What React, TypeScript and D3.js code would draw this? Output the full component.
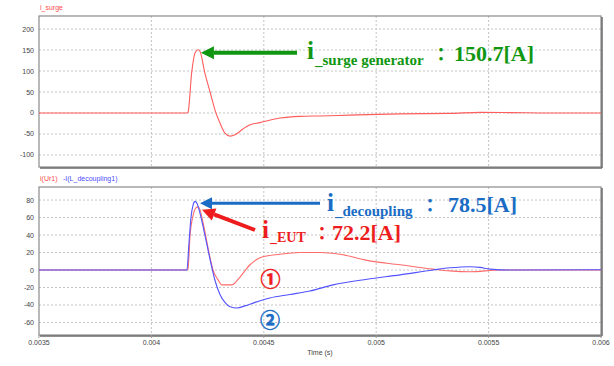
import React from 'react';
import * as d3 from 'd3';

// time axis (s)
const timeTicks = [0.0035, 0.004, 0.0045, 0.005, 0.0055, 0.006];
const timeTickLabels = ['0.0035', '0.004', '0.0045', '0.005', '0.0055', '0.006'];

// top panel: i_surge
const surgeTicks = [200, 150, 100, 50, 0, -50, -100];
const surgeTime = [0.0035, 0.004158, 0.004163, 0.004179, 0.004194, 0.004207, 0.004216, 0.004238, 0.004261, 0.004283, 0.004305, 0.004327, 0.00435, 0.004372, 0.004407, 0.004439, 0.004483, 0.004572, 0.004661, 0.00475, 0.004883, 0.005106, 0.005328, 0.005462, 0.005595, 0.005773, 0.006];
const surgeValue = [0, 0, 2, 95, 143, 150.7, 147, 95, 50, 7, -24, -48, -55, -52, -38, -28, -23, -12, -8, -7, -5, -2, -1, 1.5, 1, 0, 0];

// bottom panel: i(Ur1) and -I(L_decoupling1)
const bottomTicks = [80, 60, 40, 20, 0, -20, -40, -60];
const eutTime = [0.0035, 0.004158, 0.004163, 0.004172, 0.004185, 0.004198, 0.004207, 0.004216, 0.004229, 0.004261, 0.004274, 0.004296, 0.004314, 0.004358, 0.004394, 0.004439, 0.004483, 0.004572, 0.004661, 0.00475, 0.004839, 0.004959, 0.005106, 0.005253, 0.005328, 0.005417, 0.005551, 0.006];
const eutValue = [0, 0, 2, 40, 62, 71, 72.2, 69, 55, 14, 0, -11, -17, -17, -8, 6, 14, 18, 20, 20, 18, 11, 6, 1, -1, -2, 0, 0];
const decTime = [0.0035, 0.004158, 0.004167, 0.004176, 0.004185, 0.004194, 0.004203, 0.004216, 0.004238, 0.004261, 0.004283, 0.004305, 0.004327, 0.00435, 0.004381, 0.004416, 0.004461, 0.004527, 0.004616, 0.004705, 0.004808, 0.004959, 0.005106, 0.005253, 0.005328, 0.005417, 0.005462, 0.005506, 0.005595, 0.006];
const decValue = [0, 0, 30, 60, 74, 78.5, 76, 65, 40, 12, -12, -28, -37, -42, -43.4, -41, -37, -32, -28, -24, -17, -10.6, -5.6, 0, 2.5, 3.8, 3, 1, 0, 0.3];

const W = 614;
const H = 366;
const left = 39;
const right = 601;
const top1 = 16, bot1 = 167;
const top2 = 187, bot2 = 335;

const serif = '"Liberation Serif", "Times New Roman", serif';
const cjk = '"Noto Sans CJK JP", sans-serif';
const sans = '"Liberation Sans", Arial, sans-serif';

export default function App() {
  const x = d3.scaleLinear().domain([0.0035, 0.006]).range([left, right]);
  const y1 = d3.scaleLinear().domain([-128.6, 231]).range([bot1, top1]);
  const y2 = d3.scaleLinear().domain([-74.3, 94.9]).range([bot2, top2]);

  const line = (t: number[], v: number[], y: d3.ScaleLinear<number, number>) =>
    d3.line<number>()
      .x((_, i) => x(t[i]))
      .y(d => y(d))
      .curve(d3.curveMonotoneX)(v) || '';

  const gridX = timeTicks.slice(1, -1);

  const panel = (y: d3.ScaleLinear<number, number>, ticks: number[], t0: number, b0: number) => (
    <g>
      {ticks.map(v => (
        <g key={v}>
          <line x1={left} x2={right} y1={y(v)} y2={y(v)} stroke="#c4c4c4" strokeDasharray="2,2" />
          <text x={34} y={y(v) + 2.5} textAnchor="end" fontSize={7} fontFamily={sans} fill="#444">{v}</text>
        </g>
      ))}
      {gridX.map(v => (
        <line key={v} x1={x(v)} x2={x(v)} y1={t0} y2={b0} stroke="#c4c4c4" strokeDasharray="2,2" />
      ))}
      <rect x={left} y={t0} width={right - left} height={b0 - t0} fill="none" stroke="#8a8a8a" strokeWidth={1.2} />
      <line x1={right + 1} x2={right + 1} y1={t0 + 1} y2={b0 + 1} stroke="#6a6a6a" strokeWidth={1.5} />
      <line x1={left + 1} x2={right + 1} y1={b0 + 1} y2={b0 + 1} stroke="#6a6a6a" strokeWidth={1.5} />
    </g>
  );

  const arrow = (x1: number, yA: number, x2: number, yB: number, color: string, w: number, head: number) => {
    const ang = Math.atan2(yB - yA, x2 - x1);
    const bx = x2 - Math.cos(ang) * head;
    const by = yB - Math.sin(ang) * head;
    const px = -Math.sin(ang) * head * 0.5;
    const py = Math.cos(ang) * head * 0.5;
    return (
      <g>
        <line x1={x1} y1={yA} x2={bx} y2={by} stroke={color} strokeWidth={w} />
        <polygon points={`${x2},${yB} ${bx + px},${by + py} ${bx - px},${by - py}`} fill={color} />
      </g>
    );
  };

  const green = '#119611';
  const blue = '#1a6cc4';
  const red = '#ee1c1c';

  return (
    <svg width={W} height={H} style={{ position: 'absolute', left: 0, top: 0, background: '#fff' }}>
      <rect width={W} height={H} fill="#fff" />

      {/* top panel */}
      <text x={40} y={10} fontSize={7} fontFamily={sans} fill="#ff4d4d">i_surge</text>
      {panel(y1, surgeTicks, top1, bot1)}
      <path d={line(surgeTime, surgeValue, y1)} fill="none" stroke="#ff5c5c" strokeWidth={1.1} />

      {/* bottom panel */}
      <text x={40} y={181} fontSize={7} fontFamily={sans} fill="#ff4d4d">i(Ur1)</text>
      <text x={63} y={181} fontSize={7} fontFamily={sans} fill="#4d4dff">-I(L_decoupling1)</text>
      {panel(y2, bottomTicks, top2, bot2)}
      <path d={line(eutTime, eutValue, y2)} fill="none" stroke="#ff6b6b" strokeWidth={1.1} />
      <path d={line(decTime, decValue, y2)} fill="none" stroke="#5252ff" strokeWidth={1.1} />

      {timeTicks.map((v, i) => (
        <g key={v}>
          <line x1={x(v)} x2={x(v)} y1={bot2} y2={bot2 + 3} stroke="#999" />
          <text x={x(v)} y={345} textAnchor="middle" fontSize={7} fontFamily={sans} fill="#444">{timeTickLabels[i]}</text>
        </g>
      ))}
      <text x={320} y={355} textAnchor="middle" fontSize={7} fontFamily={sans} fill="#444">Time (s)</text>

      {/* annotations */}
      {arrow(297, y1(150.7) + 3, x(0.004207) + 3, y1(150.7) + 3, green, 4, 13)}
      <text x={307} y={59} fontSize={25} fontWeight="bold" fontFamily={serif} fill={green}>i</text>
      <text x={315} y={65} fontSize={15} fontWeight="bold" fontFamily={serif} fill={green}>_surge generator</text>
      <text x={432} y={61} fontSize={18} fontWeight="bold" fontFamily={cjk} fill={green}>：</text>
      <text x={454} y={61} fontSize={22} fontWeight="bold" fontFamily={serif} fill={green}>150.7[A]</text>

      {arrow(320, y2(78.5) + 2, x(0.004194) + 5, y2(78.5) + 2, blue, 3, 12)}
      <text x={327} y={211} fontSize={25} fontWeight="bold" fontFamily={serif} fill={blue}>i</text>
      <text x={335} y={216} fontSize={15} fontWeight="bold" fontFamily={serif} fill={blue}>_decoupling</text>
      <text x={421} y={212} fontSize={18} fontWeight="bold" fontFamily={cjk} fill={blue}>：</text>
      <text x={448} y={212} fontSize={22} fontWeight="bold" fontFamily={serif} fill={blue}>78.5[A]</text>

      {arrow(255, 230, x(0.004207) + 4, y2(72.2) + 3, red, 4, 13)}
      <text x={262} y={238} fontSize={25} fontWeight="bold" fontFamily={serif} fill={red}>i</text>
      <text x={270} y={242} fontSize={14} fontWeight="bold" fontFamily={serif} fill={red}>_EUT</text>
      <text x={313} y={240} fontSize={18} fontWeight="bold" fontFamily={cjk} fill={red}>：</text>
      <text x={332} y={240} fontSize={22} fontWeight="bold" fontFamily={serif} fill={red}>72.2[A]</text>

      <text x={270.5} y={287} textAnchor="middle" fontSize={20} fontWeight="bold" fontFamily={cjk} fill={red} stroke={red} strokeWidth={0.5}>①</text>
      <text x={270} y={328} textAnchor="middle" fontSize={20} fontWeight="bold" fontFamily={cjk} fill={blue} stroke={blue} strokeWidth={0.5}>②</text>
    </svg>
  );
}
